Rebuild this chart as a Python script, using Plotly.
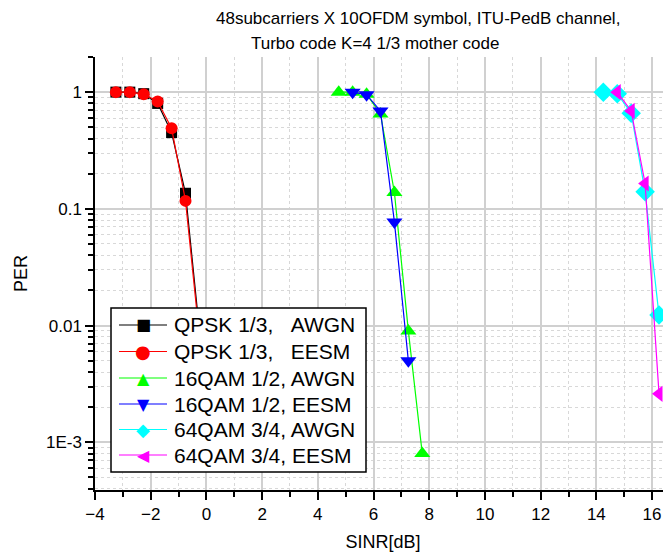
import plotly.graph_objects as go

# ---- data ----
qpsk_awgn_x = [-3.25, -2.75, -2.25, -1.75, -1.25, -0.75, -0.25]
qpsk_awgn_y = [1.0, 1.0, 0.97, 0.80, 0.45, 0.136, 0.009]
qpsk_eesm_x = [-3.25, -2.75, -2.25, -1.75, -1.25, -0.75, -0.25]
qpsk_eesm_y = [1.0, 1.0, 0.96, 0.83, 0.49, 0.117, 0.008]
qam16_awgn_x = [4.75, 5.25, 5.75, 6.25, 6.75, 7.25, 7.75]
qam16_awgn_y = [1.0, 1.0, 0.96, 0.65, 0.138, 0.009, 0.0008]
qam16_eesm_x = [5.25, 5.75, 6.25, 6.75, 7.25]
qam16_eesm_y = [1.0, 0.95, 0.69, 0.077, 0.005]
qam64_awgn_x = [14.25, 14.75, 15.25, 15.75, 16.25]
qam64_awgn_y = [1.0, 0.97, 0.66, 0.14, 0.0123]
qam64_eesm_x = [14.75, 15.25, 15.75, 16.25]
qam64_eesm_y = [1.0, 0.69, 0.165, 0.0026]

series_names = ["QPSK 1/3,\u00a0\u00a0\u00a0AWGN", "QPSK 1/3,\u00a0\u00a0\u00a0EESM",
                "16QAM 1/2, AWGN", "16QAM 1/2, EESM",
                "64QAM 3/4, AWGN", "64QAM 3/4, EESM"]

x_ticks = [-4, -2, 0, 2, 4, 6, 8, 10, 12, 14, 16]
y_ticks = [1, 0.1, 0.01, 0.001]
y_ticktext = ["1", "0.1", "0.01", "1E-3"]

title_line1 = "48subcarriers X 10OFDM symbol, ITU-PedB channel,"
title_line2 = "Turbo code K=4 1/3 mother code"
x_title = "SINR[dB]"
y_title = "PER"

FONT = "Liberation Sans, Arial, sans-serif"
SYMFONT = "DejaVu Sans"

colors = ["#000000", "#ff0000", "#00ff00", "#0000ff", "#00ffff", "#ff00ff"]
symbols = ["square", "circle", "triangle-up", "triangle-down", "diamond", "triangle-left"]
sizes = [11, 12, 14, 14, 15, 14]
glyphs = ["\u25a0", "\u25cf", "\u25b2", "\u25bc", "\u25c6", "\u25c0"]
glyph_sizes = [16, 18, 16, 16, 18, 16]

xs_all = [qpsk_awgn_x, qpsk_eesm_x, qam16_awgn_x, qam16_eesm_x, qam64_awgn_x, qam64_eesm_x]
ys_all = [qpsk_awgn_y, qpsk_eesm_y, qam16_awgn_y, qam16_eesm_y, qam64_awgn_y, qam64_eesm_y]

fig = go.Figure()
for xs, ys, col, sym, sz, name in zip(xs_all, ys_all, colors, symbols, sizes, series_names):
    fig.add_trace(go.Scatter(
        x=xs, y=ys, name=name, mode="lines+markers", showlegend=False,
        line=dict(color=col, width=1.2),
        marker=dict(symbol=sym, size=sz, color=col, line=dict(width=0)),
    ))

# plot area in screen pixels (page has 8px body margin)
PL, PR, PT, PB = 95, 671, 57, 490
def px(x):
    return (x - PL) / (PR - PL)
def py(y):
    return (PB - y) / (PB - PT)

shapes = []
annotations = []
# manual legend box
shapes.append(dict(type="rect", xref="paper", yref="paper",
                   x0=px(111), x1=px(366), y0=py(472), y1=py(308),
                   fillcolor="white", line=dict(color="black", width=1.5), layer="above"))
row_y = [325, 351.5, 378, 404, 429.5, 455]
for i, name in enumerate(series_names):
    yy = py(row_y[i])
    shapes.append(dict(type="line", xref="paper", yref="paper",
                       x0=px(119), x1=px(167), y0=yy, y1=yy,
                       line=dict(color=colors[i], width=1.2), layer="above"))
    annotations.append(dict(text=glyphs[i], xref="paper", yref="paper", x=px(143), y=yy,
                            xanchor="center", yanchor="middle", showarrow=False,
                            font=dict(family=SYMFONT, size=glyph_sizes[i], color=colors[i])))
    annotations.append(dict(text=name, xref="paper", yref="paper", x=px(172), y=yy,
                            xanchor="left", yanchor="middle", showarrow=False,
                            font=dict(family=FONT, size=21, color="black")))

# title lines
annotations.append(dict(text=title_line1, xref="paper", yref="paper", x=px(418), y=py(18),
                        xanchor="center", yanchor="middle", showarrow=False,
                        font=dict(family=FONT, size=17, color="black")))
annotations.append(dict(text=title_line2, xref="paper", yref="paper", x=px(375), y=py(43),
                        xanchor="center", yanchor="middle", showarrow=False,
                        font=dict(family=FONT, size=17, color="black")))

minor_y = [k * 10.0 ** e for e in range(-4, 1) for k in range(2, 10)]

fig.update_layout(
    width=671, height=560,
    margin=dict(l=87, r=8, t=49, b=78),
    paper_bgcolor="white", plot_bgcolor="white",
    font=dict(family=FONT, size=17, color="black"),
    showlegend=False,
    shapes=shapes, annotations=annotations,
)

fig.update_xaxes(
    range=[-4, 16.68], tickvals=x_ticks, ticks="outside", ticklen=8, tickwidth=1.5,
    tickcolor="black", showline=True, linecolor="black", linewidth=1.5,
    showgrid=True, gridcolor="#d0d0d0", gridwidth=1.5, zeroline=False,
    title=dict(text=x_title, font=dict(size=18), standoff=12),
    tickfont=dict(size=17),
    minor=dict(dtick=1, tick0=-3, ticks="outside", ticklen=5, tickwidth=1.5, tickcolor="black",
               showgrid=True, gridcolor="#d8d8d8", griddash="dot", gridwidth=1),
)
fig.update_yaxes(
    type="log", range=[-3.409, 0.301], autorange=False,
    tickvals=y_ticks, ticktext=y_ticktext, ticks="outside", ticklen=8, tickwidth=1.5,
    tickcolor="black", showline=True, linecolor="black", linewidth=1.5,
    showgrid=True, gridcolor="#d0d0d0", gridwidth=1.5, zeroline=False,
    title=dict(text=y_title, font=dict(size=18), standoff=14),
    tickfont=dict(size=17),
    minor=dict(tickvals=minor_y, ticks="outside", ticklen=5, tickwidth=1.5, tickcolor="black",
               showgrid=True, gridcolor="#d8d8d8", griddash="dot", gridwidth=1),
)

fig.write_html("out.html")
